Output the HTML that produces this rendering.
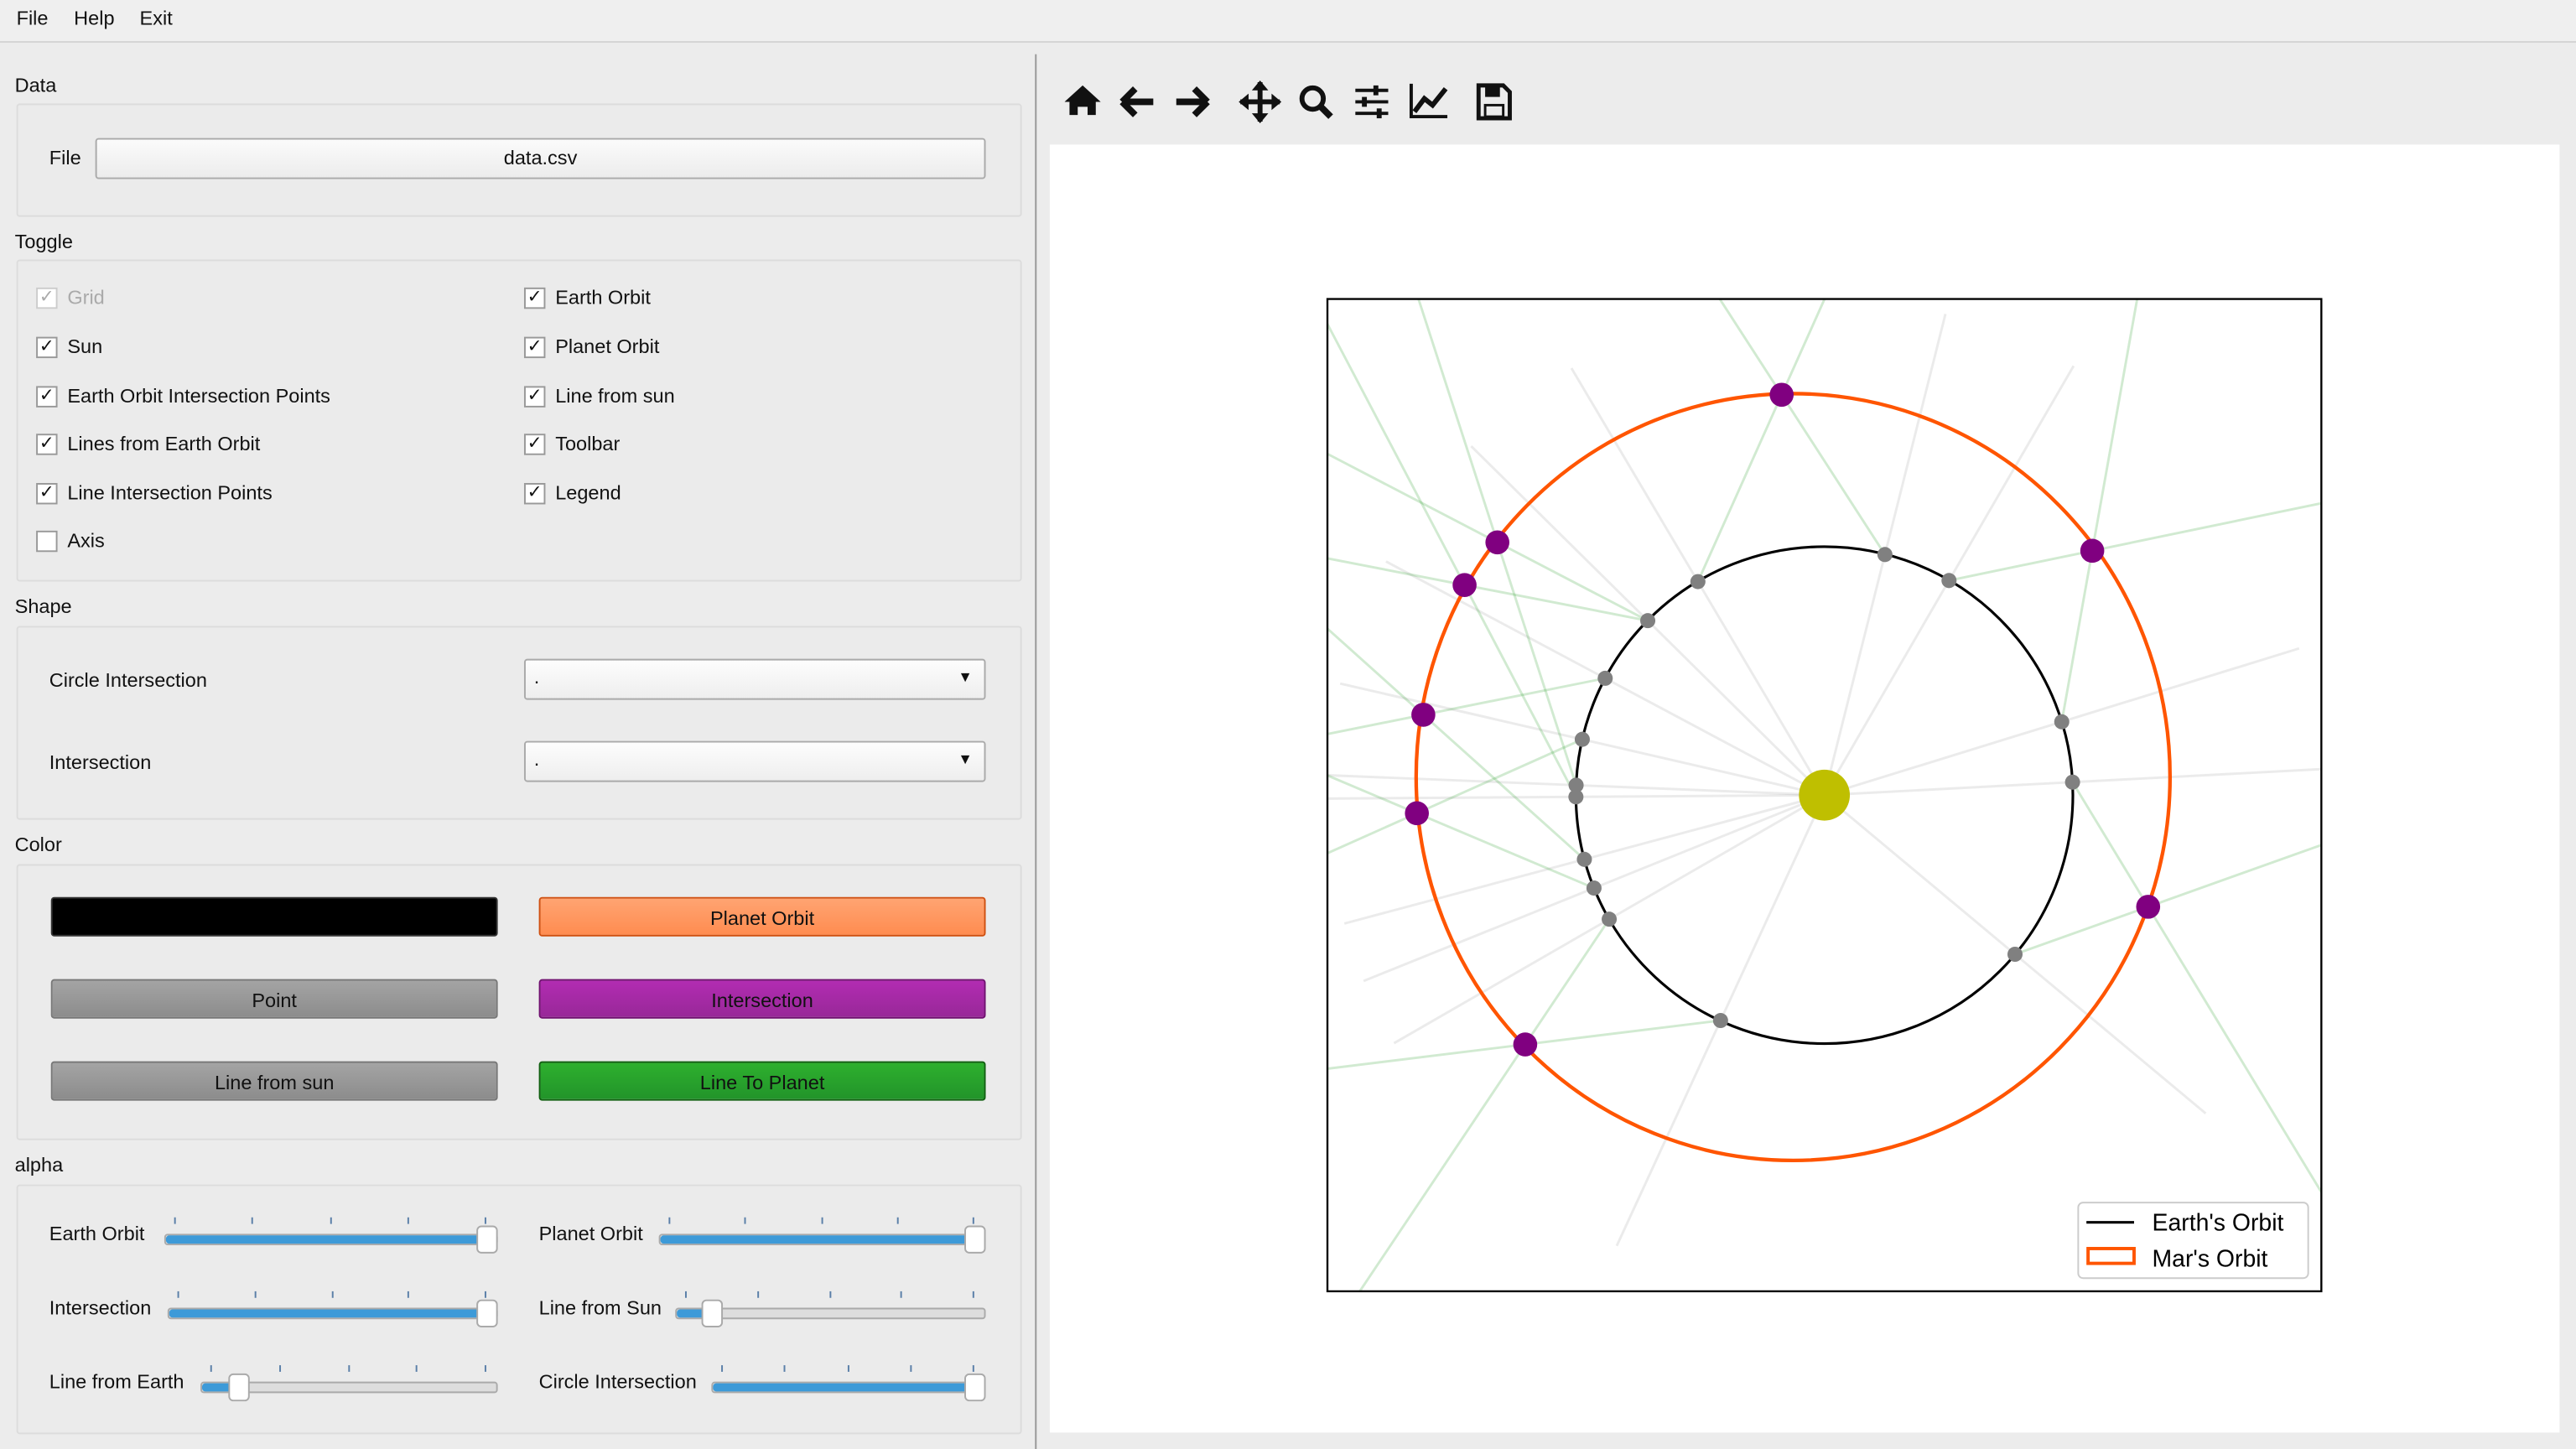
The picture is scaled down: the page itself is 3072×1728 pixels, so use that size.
<!DOCTYPE html>
<html><head><meta charset="utf-8">
<style>
html,body{margin:0;padding:0;background:#ececec;overflow:hidden;width:3072px;height:1728px}
#wrap{position:absolute;left:0;top:0;width:1568px;height:882px;transform:scale(1.959184);transform-origin:0 0;background:#ececec;font-family:"Liberation Sans",sans-serif;font-size:12px;color:#111}
.abs{position:absolute}
.grp{position:absolute;left:10px;width:610px;border:1px solid #dcdcdc;background:#ebebeb;border-radius:2px}
.lbl{position:absolute;white-space:nowrap}
.cb{position:absolute;width:11px;height:11px;border:1px solid #999;background:#fff;font-size:11px;line-height:11px;text-align:center}
.btn{position:absolute;height:24px;border-radius:2px;text-align:center;line-height:24px;box-sizing:border-box}
.combo{position:absolute;left:319px;width:281px;height:25px;border:1px solid #aaa;background:linear-gradient(#fdfdfd,#eee);border-radius:2px;box-sizing:border-box}
.sl{position:absolute;height:5px;border:1px solid #aaa;background:#ddd;border-radius:2px}
.slf{position:absolute;left:0;top:0;height:5px;background:#3d9ad8;border-radius:2px}
.hd{position:absolute;width:11px;height:15px;background:#fff;border:1px solid #aaa;border-radius:3px;top:-6px}
.tk{position:absolute;width:1px;height:4px;background:#5a7fa8}
</style></head><body>
<div id="wrap">
 <div class="abs" style="left:0;top:0;width:1568px;height:25px;border-bottom:1px solid #d4d4d4;background:#efefef">
  <span class="lbl" style="left:10px;top:4px">File</span>
  <span class="lbl" style="left:45px;top:4px">Help</span>
  <span class="lbl" style="left:85px;top:4px">Exit</span>
 </div>
 <div class="abs" style="left:630px;top:33px;width:1px;height:849px;background:#999"></div>

 <span class="lbl" style="left:9px;top:45px">Data</span>
 <div class="grp" style="top:63px;height:67px"></div>
 <span class="lbl" style="left:30px;top:89px">File</span>
 <div class="btn" style="left:58px;top:84px;width:542px;height:25px;border:1px solid #aaa;background:linear-gradient(#fbfbfb,#ececec);line-height:23px">data.csv</div>

 <span class="lbl" style="left:9px;top:140px">Toggle</span>
 <div class="grp" style="top:158px;height:194px"></div>
 <div class="cb" style="left:22px;top:175px;color:#aaa;border-color:#ccc">✓</div><span class="lbl" style="left:41px;top:174px;color:#aaa">Grid</span>
 <div class="cb" style="left:22px;top:205px">✓</div><span class="lbl" style="left:41px;top:204px">Sun</span>
 <div class="cb" style="left:22px;top:235px">✓</div><span class="lbl" style="left:41px;top:234px">Earth Orbit Intersection Points</span>
 <div class="cb" style="left:22px;top:264px">✓</div><span class="lbl" style="left:41px;top:263px">Lines from Earth Orbit</span>
 <div class="cb" style="left:22px;top:294px">✓</div><span class="lbl" style="left:41px;top:293px">Line Intersection Points</span>
 <div class="cb" style="left:22px;top:323px"></div><span class="lbl" style="left:41px;top:322px">Axis</span>
 <div class="cb" style="left:319px;top:175px">✓</div><span class="lbl" style="left:338px;top:174px">Earth Orbit</span>
 <div class="cb" style="left:319px;top:205px">✓</div><span class="lbl" style="left:338px;top:204px">Planet Orbit</span>
 <div class="cb" style="left:319px;top:235px">✓</div><span class="lbl" style="left:338px;top:234px">Line from sun</span>
 <div class="cb" style="left:319px;top:264px">✓</div><span class="lbl" style="left:338px;top:263px">Toolbar</span>
 <div class="cb" style="left:319px;top:294px">✓</div><span class="lbl" style="left:338px;top:293px">Legend</span>

 <span class="lbl" style="left:9px;top:362px">Shape</span>
 <div class="grp" style="top:381px;height:116px"></div>
 <span class="lbl" style="left:30px;top:407px">Circle Intersection</span>
 <div class="combo" style="top:401px"><span class="lbl" style="left:5px;top:3px">.</span><span class="lbl" style="right:7px;top:5px;font-size:9px">▼</span></div>
 <span class="lbl" style="left:30px;top:457px">Intersection</span>
 <div class="combo" style="top:451px"><span class="lbl" style="left:5px;top:3px">.</span><span class="lbl" style="right:7px;top:5px;font-size:9px">▼</span></div>

 <span class="lbl" style="left:9px;top:507px">Color</span>
 <div class="grp" style="top:526px;height:166px"></div>
 <div class="btn" style="left:31px;top:546px;width:272px;background:#000;border:1px solid #333"></div>
 <div class="btn" style="left:328px;top:546px;width:272px;background:linear-gradient(#ffa472,#ff8c50);border:1px solid #d05010">Planet Orbit</div>
 <div class="btn" style="left:31px;top:596px;width:272px;background:linear-gradient(#a4a4a4,#8c8c8c);border:1px solid #777">Point</div>
 <div class="btn" style="left:328px;top:596px;width:272px;background:linear-gradient(#b22cb2,#982898);border:1px solid #701070">Intersection</div>
 <div class="btn" style="left:31px;top:646px;width:272px;background:linear-gradient(#a4a4a4,#8c8c8c);border:1px solid #777">Line from sun</div>
 <div class="btn" style="left:328px;top:646px;width:272px;background:linear-gradient(#2eb02e,#22942a);border:1px solid #106010">Line To Planet</div>

 <span class="lbl" style="left:9px;top:702px">alpha</span>
 <div class="grp" style="top:721px;height:150px"></div>
 <div id="sliders"></div>

 <div class="abs" style="left:639px;top:88px;width:919px;height:784px;background:#fff"></div>
 <svg class="abs" style="left:640px;top:40px" width="300" height="44">
  <g fill="#111" stroke="#111">
   <g><path d="M8 22 L19 12 L30 22 L27 22 L27 30 L22 30 L22 25 L16 25 L16 30 L11 30 L11 22Z" stroke="none"/></g>
   <g><path d="M43 22 L51 14 M43 22 L51 30 M44 22 L62 22" stroke-width="4" fill="none"/></g>
   <g><path d="M95 22 L87 14 M95 22 L87 30 M94 22 L76 22" stroke-width="4" fill="none"/></g>
   <g><path d="M127 10 L127 34 M115 22 L139 22" stroke-width="3"/><path d="M127 9 L122 15 L132 15Z M127 35 L122 29 L132 29Z M114 22 L120 17 L120 27Z M140 22 L134 17 L134 27Z" stroke="none"/></g>
   <g><circle cx="159" cy="20" r="6.5" fill="none" stroke-width="3"/><path d="M164 25 L170 31" stroke-width="4"/></g>
   <g><path d="M185 15 L205 15 M185 22 L205 22 M185 29 L205 29" stroke-width="2"/><rect x="196" y="12" width="3" height="6" stroke="none"/><rect x="189" y="19" width="3" height="6" stroke="none"/><rect x="198" y="26" width="3" height="6" stroke="none"/></g>
   <g><path d="M219 11 L219 31 L241 31" stroke-width="2" fill="none"/><path d="M221 28 L227 20 L232 24 L240 14" stroke-width="3" fill="none"/></g>
   <g><path d="M260 12 L275 12 L279 16 L279 32 L260 32Z" fill="none" stroke-width="2.5"/><rect x="264" y="13" width="9" height="6" stroke="none"/><rect x="264" y="24" width="11" height="7" fill="none" stroke-width="1.5"/></g>
  </g>
 </svg>

 <svg id="chart" class="abs" style="left:807px;top:181px" width="607" height="606">
  <defs><clipPath id="clip"><rect x="1" y="1" width="605" height="604"/></clipPath></defs>
  <rect x="0" y="0" width="607" height="606" fill="#fff"/>
  <g id="plot" clip-path="url(#clip)"></g>
  <rect x="1" y="1" width="605" height="604" fill="none" stroke="#000" stroke-width="1.2"/>
  <g>
   <rect x="458" y="551" width="140" height="46" rx="3" fill="#fff" fill-opacity="0.85" stroke="#ccc"/>
   <g><line x1="463" y1="563" x2="492" y2="563" stroke="#000" stroke-width="1.6"/><text x="503" y="568" font-family="Liberation Sans, DejaVu Sans, sans-serif" font-size="14.5">Earth's Orbit</text></g>
   <g><rect x="464" y="579" width="28" height="9" fill="none" stroke="#ff5500" stroke-width="2"/><text x="503" y="590" font-family="Liberation Sans, DejaVu Sans, sans-serif" font-size="14.5">Mar's Orbit</text></g>
  </g>
 </svg>
</div>
<script>
// Chart data (AU units, sun at origin)
const earthRadius = [1.0];
const earthAngles = [75.9, 59.9, 120.6, 135.3, 151.9, 167.0, 177.7, 180.4, 195.0, 202.0, 210.0, 245.3, 320.1, 3.0, 17.2];
const marsX = [-0.172, -1.316, -1.448, -1.614, -1.640, -1.204, 1.303, 1.078];
const marsY = [1.614, 1.019, 0.847, 0.324, -0.073, -1.005, -0.450, 0.985];
const lineMars = [0, 0, 7, 7, 6, 6, 5, 5, 4, 4, 3, 3, 2, 2, 1, 1];
const lineEarth = [2, 0, 1, 14, 12, 13, 11, 10, 5, 9, 4, 8, 3, 7, 3, 6];
const marsOrbitCenter = [-0.126, 0.073];
const marsOrbitRadii = [1.517, 1.543];
const sunLineLength = [2.0];
const axisRange = [-2, 2];

const W = 605, H = 604, OX = 1, OY = 1;
function sx(x){ return OX + (x - axisRange[0]) / (axisRange[1] - axisRange[0]) * W; }
function sy(y){ return OY + (axisRange[1] - y) / (axisRange[1] - axisRange[0]) * H; }
const NS = 'http://www.w3.org/2000/svg';
const plot = document.getElementById('plot');
function mk(tag, attrs){ const e = document.createElementNS(NS, tag); for (const k in attrs) e.setAttribute(k, attrs[k]); plot.appendChild(e); return e; }
const ex = earthAngles.map(a => earthRadius[0] * Math.cos(a * Math.PI / 180));
const ey = earthAngles.map(a => earthRadius[0] * Math.sin(a * Math.PI / 180));

// sun lines
earthAngles.forEach((a, i) => {
  const r = sunLineLength[0];
  const el = mk('line', {x1: sx(0), y1: sy(0), x2: sx(r*Math.cos(a*Math.PI/180)), y2: sy(r*Math.sin(a*Math.PI/180)), stroke: '#808080', 'stroke-opacity': 0.16, 'stroke-width': 1.5});
  
  
});
// earth -> mars lines
lineMars.forEach((m, i) => {
  const e = lineEarth[i];
  const dx = marsX[m] - ex[e], dy = marsY[m] - ey[e];
  const L = Math.hypot(dx, dy), ux = dx / L, uy = dy / L;
  const el = mk('line', {x1: sx(ex[e]), y1: sy(ey[e]), x2: sx(marsX[m] + ux*1.6), y2: sy(marsY[m] + uy*1.6), stroke: '#2ca02c', 'stroke-opacity': 0.22, 'stroke-width': 1.5});
  
  
});
// earth orbit
let c1 = mk('circle', {cx: sx(0), cy: sy(0), r: sx(earthRadius[0]) - sx(0), fill: 'none', stroke: '#000', 'stroke-width': 1.6});


// mars orbit
let c2 = mk('ellipse', {cx: sx(marsOrbitCenter[0]), cy: sy(marsOrbitCenter[1]), rx: sx(marsOrbitRadii[0]) - sx(0), ry: sx(marsOrbitRadii[1]) - sx(0), fill: 'none', stroke: '#ff5500', 'stroke-width': 2.2});


// sun
let sun = mk('circle', {cx: sx(0), cy: sy(0), r: 15.5, fill: '#bfbf00'});


// earth points
ex.forEach((x, i) => {
  const p = mk('circle', {cx: sx(x), cy: sy(ey[i]), r: 4.6, fill: '#808080'});
  
  
});
// mars points
marsX.forEach((x, i) => {
  const p = mk('circle', {cx: sx(x), cy: sy(marsY[i]), r: 7.3, fill: '#800080'});
  
  
});

// sliders
const sliders = [
 ['Earth Orbit', 30, 752, 100, 301, 295, 'earth-orbit-alpha-slider'],
 ['Planet Orbit', 328, 752, 401, 598, 592, 'planet-orbit-alpha-slider'],
 ['Intersection', 30, 797, 102, 301, 295, 'intersection-alpha-slider'],
 ['Line from Sun', 328, 797, 411, 598, 432, 'line-from-sun-alpha-slider'],
 ['Line from Earth', 30, 842, 122, 301, 144, 'line-from-earth-alpha-slider'],
 ['Circle Intersection', 328, 842, 433, 598, 592, 'circle-intersection-alpha-slider']
];
const host = document.getElementById('sliders');
sliders.forEach(s => {
  const [t, lx, y, x0, x1, h, nm] = s;
  const lab = document.createElement('span');
  lab.className = 'lbl'; lab.style.left = lx + 'px'; lab.style.top = (y - 8) + 'px'; lab.textContent = t;
  
  
  host.appendChild(lab);
  const tr = document.createElement('div');
  tr.className = 'sl'; tr.style.left = x0 + 'px'; tr.style.top = (y - 1) + 'px'; tr.style.width = (x1 - x0) + 'px';
  
  
  const f = document.createElement('div'); f.className = 'slf'; f.style.width = (h - x0) + 'px'; tr.appendChild(f);
  const hd = document.createElement('div'); hd.className = 'hd'; hd.style.left = (h - x0 - 6) + 'px'; tr.appendChild(hd);
  host.appendChild(tr);
  for (let k = 0; k < 5; k++) {
    const tk = document.createElement('div'); tk.className = 'tk';
    tk.style.left = (x0 + 6 + k * (x1 - x0 - 12) / 4) + 'px'; tk.style.top = (y - 11) + 'px';
    host.appendChild(tk);
  }
});
</script>
</body></html>
